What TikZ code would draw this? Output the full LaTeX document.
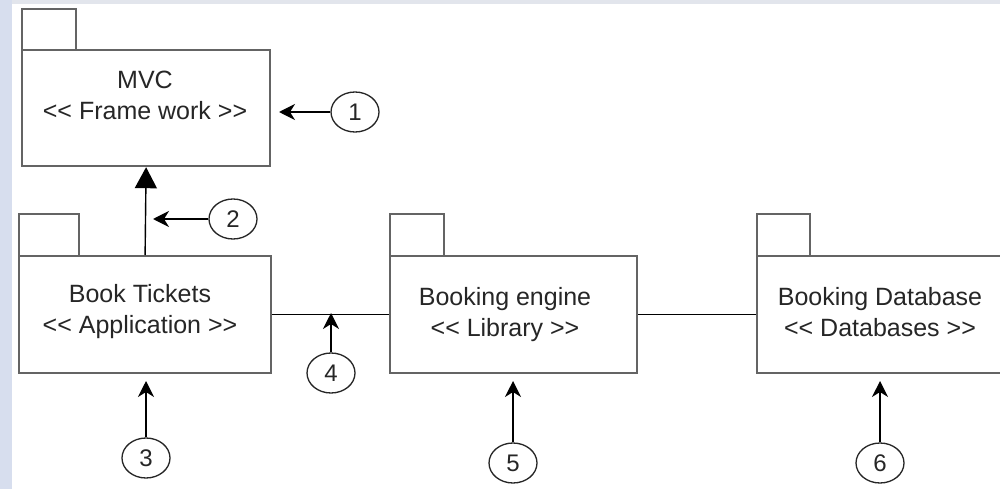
\documentclass[tikz,border=0pt]{standalone}
\usepackage{fontspec}
\newfontfamily\arialf{Liberation Sans}
\usetikzlibrary{arrows.meta,shapes.geometric}
\definecolor{strip}{RGB}{215,222,238}
\definecolor{topband}{RGB}{226,229,236}
\definecolor{boxline}{RGB}{100,100,100}
\begin{document}
\begin{tikzpicture}[x=1pt,y=-1pt,
  pkg/.style={draw=boxline, line width=2.2pt, anchor=north west, inner sep=0pt, fill=white},
  tabbox/.style={draw=boxline, line width=1.8pt, anchor=north west, inner sep=0pt, fill=white},
  lbl/.style={font=\arialf\fontsize{25}{31}\selectfont, align=center, inner sep=0pt, text=black!85},
  num/.style={draw=black!85, line width=1.3pt, ellipse, minimum width=48pt, minimum height=40pt, inner sep=0pt, fill=white, font=\arialf\fontsize{24}{24}\selectfont, text=black!85},
  conn/.style={draw=black, line width=1.4pt},
  arr/.style={conn, -{Stealth[length=16pt,width=16pt,inset=5pt]}},
]
\useasboundingbox (0,0) rectangle (1000,489);
\clip (0,0) rectangle (1000,489);
\fill[white] (0,0) rectangle (1000,489);
\fill[topband] (0,0) rectangle (1000,4);
\fill[strip] (0,0) rectangle (12,489);

% MVC package
\node[tabbox, minimum width=54pt, minimum height=41pt] (mvctab) at (21,8) {};
\node[pkg, minimum width=248pt, minimum height=116pt] (mvc) at (21,49) {};
\node[lbl] (mvcl) at (145,95) {MVC\\<< Frame work >>};

% Book Tickets package
\node[tabbox, minimum width=60pt, minimum height=42pt] (bttab) at (18,213) {};
\node[pkg, minimum width=252pt, minimum height=117pt] (bt) at (18,255) {};
\node[lbl] (btl) at (140,312) {Book Tickets\\<< Application >>};

% Booking engine package
\node[tabbox, minimum width=54pt, minimum height=42pt] (betab) at (389,213) {};
\node[pkg, minimum width=247pt, minimum height=117pt] (be) at (389,255) {};
\node[lbl] (bel) at (505,315) {Booking engine\\<< Library >>};

% Booking Database package
\node[tabbox, minimum width=53pt, minimum height=42pt] (dbtab) at (756,213) {};
\node[pkg, minimum width=270pt, minimum height=117pt] (db) at (756,255) {};
\node[lbl] (dbl) at (880,312) {Booking Database\\<< Databases >>};

% connectors between packages
\draw[conn] (bt.east) -- (be.west);
\draw[conn] (be.east) -- (db.west);
\draw[conn, -{Triangle[length=21pt,width=22pt]}] (bt.north) -- (mvc.south);

% numbered callouts
\node[num] (n1) at (355,112) {1};
\node[num] (n2) at (233,219) {2};
\node[num] (n3) at (146,458) {3};
\node[num] (n4) at (331,373) {4};
\node[num] (n5) at (513,463) {5};
\node[num] (n6) at (880,463) {6};

\coordinate (a1) at (279,112);
\coordinate (a2) at (153,219);
\coordinate (a3) at (146,381);
\coordinate (a4) at (331,313);
\coordinate (a5) at (513,381);
\coordinate (a6) at (880,381);

\draw[arr] (n1.west) -- (a1);
\draw[arr] (n2.west) -- (a2);
\draw[arr] (n3.north) -- (a3);
\draw[arr] (n4.north) -- (a4);
\draw[arr] (n5.north) -- (a5);
\draw[arr] (n6.north) -- (a6);
\end{tikzpicture}
\end{document}
